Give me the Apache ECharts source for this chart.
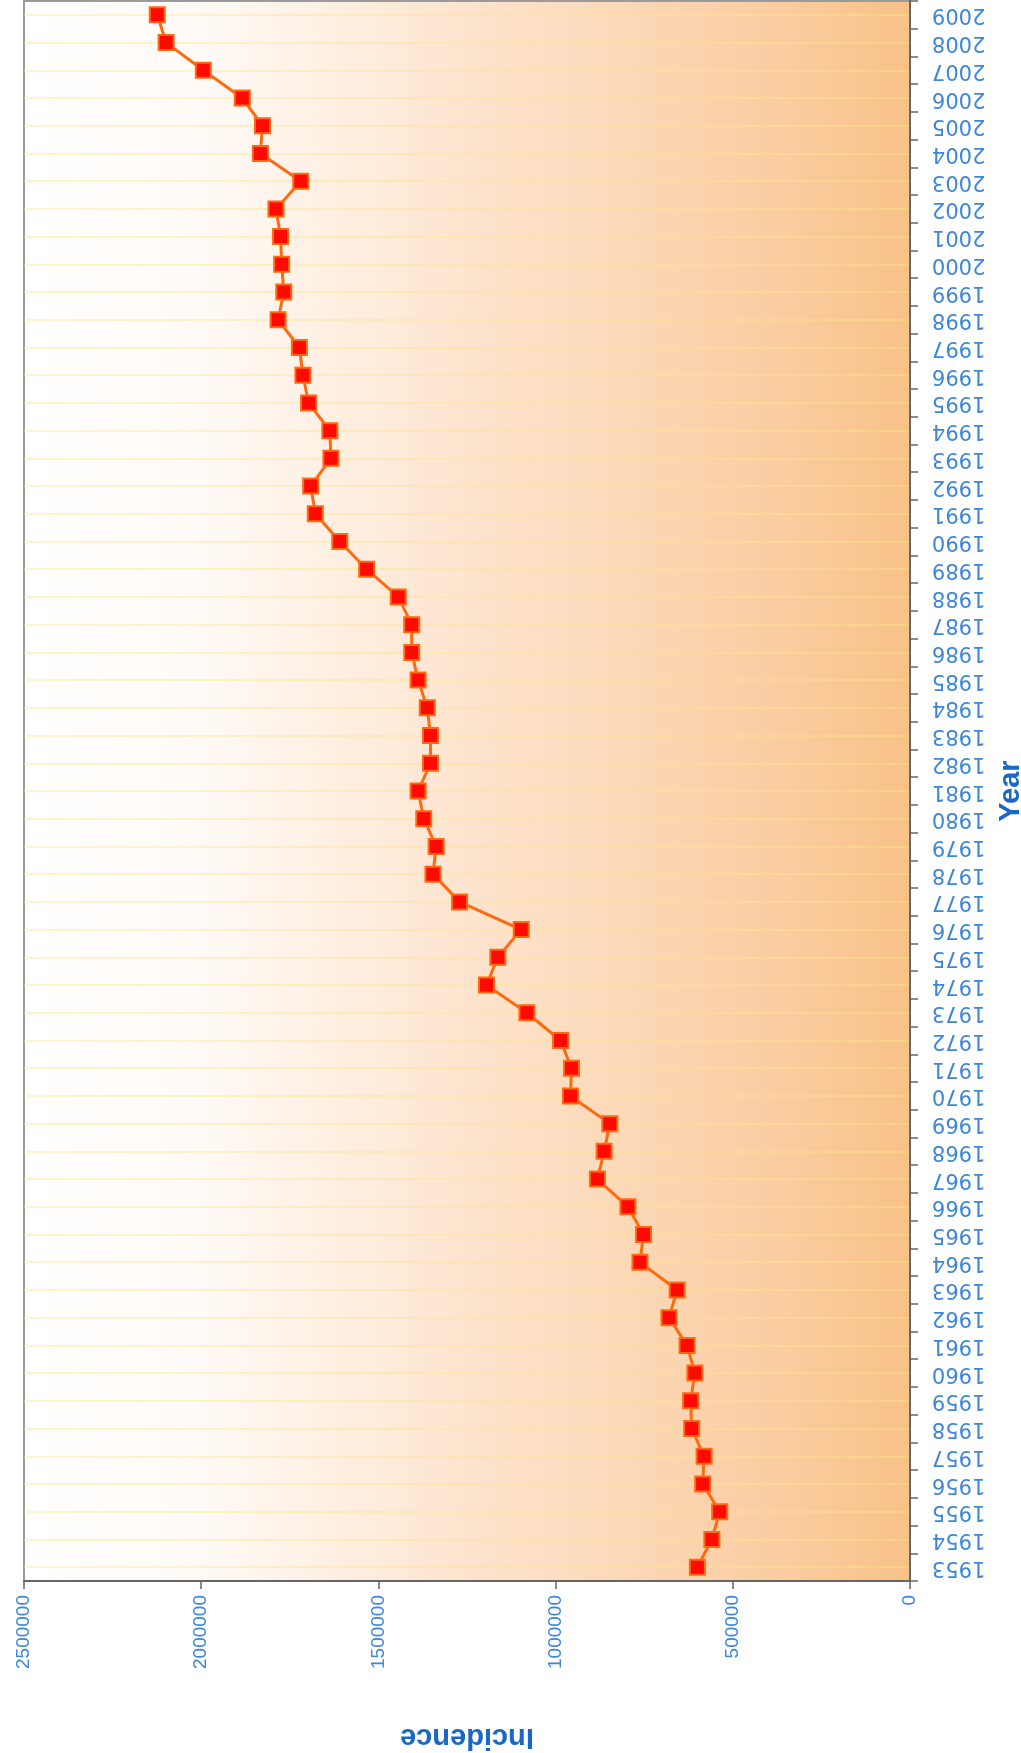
<!DOCTYPE html>
<html>
<head>
<meta charset="utf-8">
<script src="https://cdn.jsdelivr.net/npm/echarts@6/dist/echarts.min.js"></script>
<style>
  html, body { margin: 0; padding: 0; background: #fff; }
  #main { width: 1021px; height: 1753px; }
</style>
</head>
<body>
<div id="main"></div>
<script>
// years (1953 at the bottom, 2009 at the top)
var years = [];
for (var y = 1953; y <= 2009; y++) years.push(String(y));

// incidence
var incidence = [
    600000, 559000, 537000, 585000, 581000, 616000, 619000, 607000, 629000, 680000,   // 1953-1962
    657000, 762000, 752000, 796000, 882000, 863000, 847000, 958000, 955000, 986000,   // 1963-1972
    1081000, 1195000, 1163000, 1097000, 1271000, 1346000, 1337000, 1372000, 1388000, 1353000, // 1973-1982
    1353000, 1362000, 1388000, 1406000, 1406000, 1444000, 1533000, 1609000, 1678000, 1691000, // 1983-1992
    1634000, 1637000, 1697000, 1713000, 1723000, 1783000, 1767000, 1773000, 1776000, 1789000, // 1993-2002
    1719000, 1833000, 1827000, 1884000, 1994000, 2099000, 2124000                             // 2003-2009
];

var valueTicks = { min: 0, max: 2500000, step: 500000 };

var labelColor = '#3d86d8';
var nameColor = '#1a68c6';

var chart = echarts.init(document.getElementById('main'));
chart.setOption({
    animation: false,
    backgroundColor: '#ffffff',
    grid: {
        left: 24,
        right: 111,
        top: 1,
        bottom: 172,
        outerBoundsMode: 'none',
        show: true,
        borderColor: '#9a9a9a',
        borderWidth: 2,
        //白色到橙色的渐变背景
        backgroundColor: new echarts.graphic.LinearGradient(0, 0, 1, 0, [
            { offset: 0, color: '#ffffff' },
            { offset: 0.2, color: '#fffaf6' },
            { offset: 0.5, color: '#fde4ce' },
            { offset: 0.8, color: '#fbd0a8' },
            { offset: 1, color: '#f8c288' }
        ])
    },
    xAxis: {
        type: 'value',
        inverse: true,
        min: valueTicks.min,
        max: valueTicks.max,
        interval: valueTicks.step,
        name: 'Incidence',
        nameLocation: 'middle',
        nameRotate: 180,
        nameGap: 141,
        nameTextStyle: { color: nameColor, fontSize: 29, fontWeight: 'bold', fontFamily: 'Liberation Sans' },
        axisLine: { show: true, lineStyle: { color: '#666', width: 2 } },
        axisTick: { show: true, length: 8, lineStyle: { color: '#666', width: 1.5 } },
        axisLabel: {
            rotate: 90, margin: 14, color: labelColor, fontSize: 19, fontFamily: 'Liberation Sans',
            formatter: function (v) { return String(v); }
        },
        splitLine: { show: false }
    },
    yAxis: {
        type: 'category',
        position: 'right',
        data: years,
        boundaryGap: true,
        name: 'Year',
        nameLocation: 'middle',
        nameGap: 86,
        nameTextStyle: { color: nameColor, fontSize: 29, fontWeight: 'bold', fontFamily: 'Liberation Sans' },
        axisLine: { show: true, lineStyle: { color: '#666', width: 2 } },
        axisTick: { show: true, length: 8, lineStyle: { color: '#666', width: 1.5 } },
        axisLabel: { rotate: 180, margin: 22, interval: 0, color: labelColor, fontSize: 21, fontFamily: 'DejaVu Sans' },
        splitLine: { show: true, alignWithLabel: true, lineStyle: { color: 'rgba(255,230,140,0.55)', width: 1.5 } }
    },
    series: [{
        type: 'line',
        data: incidence,
        symbol: 'rect',
        symbolSize: 15,
        lineStyle: { color: '#ff6a10', width: 3 },
        itemStyle: { color: '#ff0a00', borderColor: '#ff6a10', borderWidth: 2 }
    }]
});
</script>
</body>
</html>
